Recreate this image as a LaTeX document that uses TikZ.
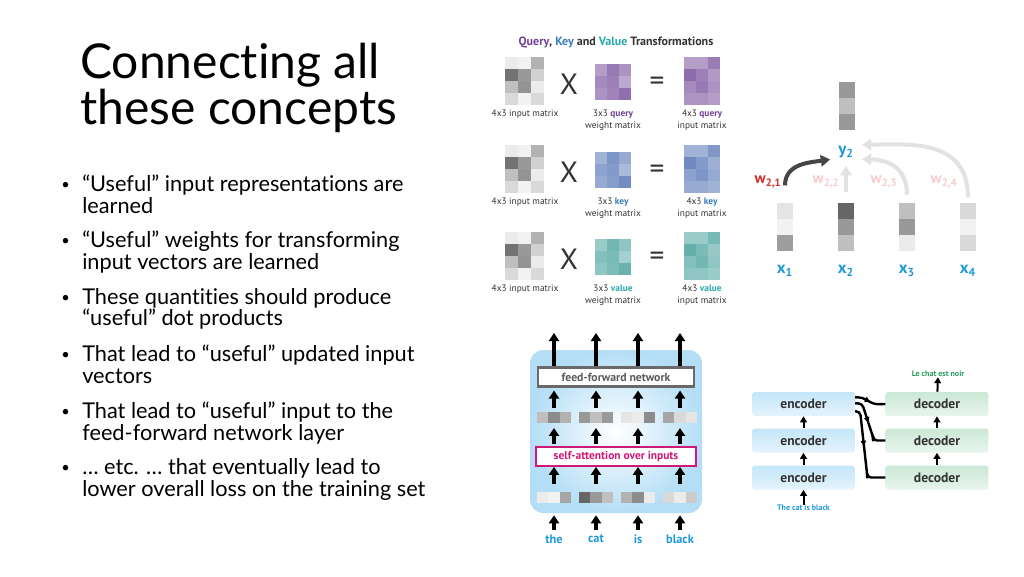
\documentclass[tikz,border=0pt]{standalone}
\usepackage{fontspec}
\setmainfont{Lato}[Ligatures=NoCommon]
\newfontfamily\figfont{PT Sans}
\usetikzlibrary{arrows.meta,positioning,decorations.markings}

\definecolor{txtdark}{RGB}{51,51,51}
\definecolor{qtext}{RGB}{112,64,150}
\definecolor{ktext}{RGB}{55,125,190}
\definecolor{vtext}{RGB}{40,170,170}
\definecolor{qmat}{RGB}{125,88,160}
\definecolor{kmat}{RGB}{92,122,185}
\definecolor{vmat}{RGB}{80,165,160}
\definecolor{wordblue}{RGB}{30,155,215}
\definecolor{wred}{RGB}{212,45,45}
\definecolor{wfade}{RGB}{246,205,205}
\definecolor{afade}{RGB}{226,226,226}
\definecolor{adark}{RGB}{70,70,70}
\definecolor{sapink}{RGB}{205,25,120}
\definecolor{ffgrey}{RGB}{105,105,105}
\definecolor{panelblue}{RGB}{180,222,246}
\definecolor{encblue}{RGB}{196,230,249}
\definecolor{decgreen}{RGB}{203,232,214}
\definecolor{outgreen}{RGB}{40,155,95}

% grid of shaded cells: x, y, cell width, cell height, columns, colour, shades
\newcommand{\cellgrid}[7]{%
  \foreach \v [count=\i from 0] in {#7}{
    \pgfmathtruncatemacro\rowi{\i/#5}
    \pgfmathtruncatemacro\coli{mod(\i,#5)}
    \fill[fill=#6!\v!white] ({#1+\coli*#3},{#2+\rowi*#4}) rectangle ++(#3,#4);
  }}

\begin{document}
\begin{tikzpicture}[x=0.75pt,y=-0.75pt,
    slidetext/.style={anchor=base west,inner sep=0pt,font=\fontsize{16.3}{20}\selectfont},
    slidedot/.style={anchor=base west,inner sep=0pt,font=\fontsize{11}{14}\selectfont},
    slidetitle/.style={anchor=base west,inner sep=0pt,font=\fontsize{36}{40}\selectfont},
    figlabel/.style={anchor=base,inner sep=0pt,text=txtdark,font=\figfont\fontsize{7}{8}\selectfont},
    opsign/.style={inner sep=0pt,text=txtdark,font=\figfont\fontsize{22}{24}\selectfont},
    vecbox/.style={minimum width=12pt,minimum height=36pt,inner sep=0pt},
    rowvec/.style={minimum width=25.5pt,minimum height=8.25pt,inner sep=0pt},
    wlabel/.style={inner sep=0pt,font=\figfont\bfseries\fontsize{11.5}{13}\selectfont},
    xlabel/.style={inner sep=0pt,text=wordblue,font=\figfont\bfseries\fontsize{12.5}{14}\selectfont},
    attn/.style={line width=3pt,-{Triangle[length=7pt,width=8.5pt]}},
    blk/.style={line width=2.6pt,-{Triangle[length=6pt,width=7.5pt]}},
    word/.style={text=wordblue,font=\figfont\bfseries\fontsize{9.2}{11}\selectfont},
    ffbox/.style={draw=ffgrey,line width=1.8pt,fill=white,minimum width=117pt,minimum height=14.5pt,
      inner sep=0pt,text=txtdark!80,font=\figfont\bfseries\fontsize{8.8}{10}\selectfont},
    sabox/.style={draw=sapink,line width=1.6pt,fill=white,minimum width=120pt,minimum height=14pt,
      inner sep=0pt,text=sapink,font=\figfont\bfseries\fontsize{8.6}{10}\selectfont},
    coder/.style={rounded corners=2pt,minimum width=77pt,minimum height=18pt,inner sep=0pt,
      text=txtdark,font=\figfont\bfseries\fontsize{10.2}{12}\selectfont},
    encbox/.style={coder,top color=encblue,bottom color=encblue!45!white},
    decbox/.style={coder,top color=decgreen,bottom color=decgreen!45!white},
    stack/.style={line width=1.5pt,-{Triangle[length=4.5pt,width=5pt]}},
    xline/.style={line width=1.8pt,rounded corners=3pt,postaction={decorate,
      decoration={markings,mark=at position #1 with {\arrow{Triangle[length=4pt,width=4pt]}}}}},
    xline/.default=0.4,
    smallword/.style={inner sep=0pt,font=\figfont\bfseries\fontsize{6}{7}\selectfont},
  ]
\path[fill=white,use as bounding box] (0,0) rectangle (1024,576);

% title and bullets
\node[slidetitle] (title1) at (80,78) {Connecting all};
\node[slidetitle] (title2) at (80,124) {these concepts};
\foreach \n/\yb in {1/189,2/245,3/302,4/359,5/416,6/472}
  \node[slidedot] (dot\n) at (61,\yb) {•};
\node[slidetext] (p1a) at (82,191) {“Useful” input representations are};
\node[slidetext] (p1b) at (82,213) {learned};
\node[slidetext] (p2a) at (82,247) {“Useful” weights for transforming};
\node[slidetext] (p2b) at (82,269) {input vectors are learned};
\node[slidetext] (p3a) at (82,304) {These quantities should produce};
\node[slidetext] (p3b) at (82,325) {“useful” dot products};
\node[slidetext] (p4a) at (82,361) {That lead to “useful” updated input};
\node[slidetext] (p4b) at (82,383) {vectors};
\node[slidetext] (p5a) at (82,418) {That lead to “useful” input to the};
\node[slidetext] (p5b) at (82,440) {feed-forward network layer};
\node[slidetext] (p6a) at (82,474) {… etc. … that eventually lead to};
\node[slidetext] (p6b) at (82,496) {lower overall loss on the training set};

% query, key and value transformations
\node[anchor=base,inner sep=0pt,text=txtdark,font=\figfont\bfseries\fontsize{9}{11}\selectfont] (qkvtitle) at (616,45)
  {\textcolor{qtext}{Query}, \textcolor{ktext}{Key} and \textcolor{vtext}{Value} Transformations};
\foreach \ry/\mc/\tc/\wrd in {57/qmat/qtext/query,145/kmat/ktext/key,232/vmat/vtext/value}{
  \begin{scope}[shift={(0,\ry)}]
    \cellgrid{505}{0}{13}{12}{3}{black}{8,5,30,55,40,18,25,42,8,15,5,15}
    \cellgrid{595}{7}{12}{12}{3}{\mc}{58,80,64,70,76,52,64,74,86}
    \cellgrid{684}{0}{12}{12}{3}{\mc}{58,58,78,88,76,60,70,80,64,64,64,58}
    \node[opsign] (times-\wrd) at (569,27) {X};
    \node[opsign] (eq-\wrd) at (657,27) {=};
    \node[figlabel] (in-\wrd) at (525,59) {4x3 input matrix};
    \node[figlabel] (wa-\wrd) at (613,59) {3x3 \textcolor{\tc}{\bfseries\wrd}};
    \node[figlabel] (wb-\wrd) at (613,71) {weight matrix};
    \node[figlabel] (oa-\wrd) at (702,59) {4x3 \textcolor{\tc}{\bfseries\wrd}};
    \node[figlabel] (ob-\wrd) at (702,71) {input matrix};
  \end{scope}
}

% y2 as weighted sum of x1..x4
\node[vecbox] (y2vec) at (846.5,106) {};
\cellgrid{838.5}{82}{16}{16}{1}{black}{40,25,40}
\node[xlabel,inner sep=6pt] (y2) at (846,152) {y\textsubscript{2}};
\node[vecbox] (x1) at (785,227) {};
\cellgrid{777}{203}{16}{16}{1}{black}{10,5,38}
\node[vecbox] (x2) at (846,227) {};
\cellgrid{838}{203}{16}{16}{1}{black}{60,40,25}
\node[vecbox] (x3) at (907,227) {};
\cellgrid{899}{203}{16}{16}{1}{black}{25,40,8}
\node[vecbox] (x4) at (968,227) {};
\cellgrid{960}{203}{16}{16}{1}{black}{15,5,15}
\node[xlabel] (x1l) at (785,271) {x\textsubscript{1}};
\node[xlabel] (x2l) at (846,271) {x\textsubscript{2}};
\node[xlabel] (x3l) at (907,271) {x\textsubscript{3}};
\node[xlabel] (x4l) at (968,271) {x\textsubscript{4}};
\node[wlabel,text=wred] (w21) at (768,182) {w\textsubscript{2,1}};
\node[wlabel,text=wfade] (w22) at (826,182) {w\textsubscript{2,2}};
\node[wlabel,text=wfade] (w23) at (884,182) {w\textsubscript{2,3}};
\node[wlabel,text=wfade] (w24) at (944,182) {w\textsubscript{2,4}};
\draw[attn,draw=afade] ([yshift=4pt]x4.north) .. controls +(0,-60) and +(45,0) .. (y2.25);
\draw[attn,draw=afade] ([yshift=6pt]x3.north) .. controls +(0,-30) and +(22,0) .. (y2.-25);
\draw[attn,draw=afade] ([yshift=8pt]x2.north) -- (y2.south);
\draw[attn,draw=adark] ([yshift=13pt]x1.north) .. controls +(0,-22) and +(-20,3) .. (y2.205);

% encoder layer
\shade[inner color=white,outer color=panelblue,rounded corners=10pt] (530,350) rectangle (702,513);
\node[ffbox] (ffn) at (616,377) {feed-forward network};
\node[sabox] (sa) at (616,456.5) {self-attention over inputs};
\foreach \n/\xc/\wrd in {1/554/the,2/596/cat,3/638/is,4/680/black}{
  \node[rowvec] (mv\n) at (\xc,417.5) {};
  \node[rowvec] (bv\n) at (\xc,497.5) {};
  \node[word] (w\n) at (\xc,539) {\wrd};
  \coordinate (top\n) at (\xc,333);
}
\cellgrid{537}{412}{11.33}{11}{3}{black}{25,45,30}
\cellgrid{579}{412}{11.33}{11}{3}{black}{40,25,40}
\cellgrid{621}{412}{11.33}{11}{3}{black}{10,8,45}
\cellgrid{663}{412}{11.33}{11}{3}{black}{35,15,10}
\cellgrid{537}{492}{11.33}{11}{3}{black}{8,5,35}
\cellgrid{579}{492}{11.33}{11}{3}{black}{60,40,25}
\cellgrid{621}{492}{11.33}{11}{3}{black}{30,45,8}
\cellgrid{663}{492}{11.33}{11}{3}{black}{15,8,20}
\foreach \n in {1,...,4}{
  \draw[blk,shorten >=9pt] (w\n) -- (bv\n);
  \draw[blk,shorten <=6pt] (bv\n) -- (bv\n |- sa.south);
  \draw[blk,shorten <=1.5pt,shorten >=3.5pt] (bv\n |- sa.north) -- (mv\n);
  \draw[blk,shorten <=3pt,shorten >=2pt] (mv\n) -- (mv\n |- ffn.south);
  \draw[blk] (top\n |- ffn.north) -- (top\n);
}

% encoder / decoder stacks
\foreach \n/\yc in {1/404,2/440.5,3/477.5}{
  \node[encbox] (enc\n) at (803.5,\yc) {encoder};
  \node[decbox] (dec\n) at (937,\yc) {decoder};
}
\node[smallword,text=wordblue] (ein) at (803.5,508) {The cat is black};
\node[smallword,text=outgreen] (dout) at (938,374) {Le chat est noir};
\draw[stack] (ein) -- (enc3);
\draw[stack] (enc3) -- (enc2);
\draw[stack] (enc2) -- (enc1);
\draw[stack] (dec3) -- (dec2);
\draw[stack] (dec2) -- (dec1);
\draw[stack] (dec1) -- (dout);
\draw[xline=0.5] ([yshift=5pt]enc1.east) -- ++(7,0) -- ++(12,7) -- (dec1.west);
\draw[xline] ([yshift=0.5pt]enc1.east) -- ++(7,0) -- ++(11,34) |- (dec2.west);
\draw[xline] ([yshift=-5.5pt]enc1.east) -- ++(5,0) -- ++(7,63) |- (dec3.west);
\end{tikzpicture}
\end{document}
